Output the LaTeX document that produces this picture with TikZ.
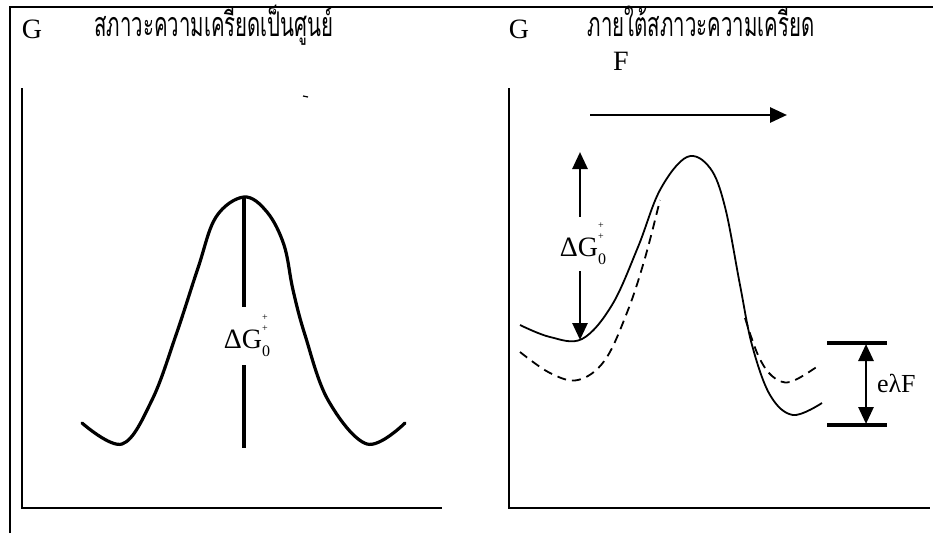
\documentclass[tikz,border=0pt]{standalone}
\usepackage{fontspec}
\setmainfont{Liberation Serif}
\newfontfamily\thaifont[Script=Thai,FakeStretch=0.6]{Loma}
\usetikzlibrary{arrows.meta}
\newcommand\dgzero{\fontsize{28}{28}\selectfont ΔG\makebox[0pt][l]{\raisebox{1.0em}{\fontsize{10}{10}\selectfont +}}\makebox[0pt][l]{\raisebox{0.6em}{\fontsize{10}{10}\selectfont +}}\raisebox{-0.3em}{\fontsize{16}{16}\selectfont 0}}
\tikzset{
  axis/.style={line width=2.2pt},
  curve/.style={line width=3.2pt, line cap=round},
  thin curve/.style={line width=1.8pt},
  dcurve/.style={line width=1.8pt, dash pattern=on 9pt off 6pt},
  lbl/.style={inner sep=0pt, outer sep=4pt, font=\fontsize{28}{28}\selectfont},
  thai/.style={inner sep=0pt, font=\thaifont\fontsize{34}{36}\selectfont},
  bigarrow/.style={line width=2.8pt, -{Triangle[length=17pt,width=15pt]}},
  bar/.style={line width=3.2pt},
}
\begin{document}
\begin{tikzpicture}[x=1pt,y=-1pt]
\useasboundingbox (0,0) rectangle (936,533);
% outer frame
\draw[line width=2.5pt] (10,533) -- (10,7) -- (933,7);
% ---------- left panel ----------
\node[lbl] (gl) at (32,29) {G};
\node[thai, anchor=base] (tl) at (214,36) {สภาวะความเครียดเป็นศูนย์};
\draw[axis] (22,88) -- (22,508) -- (442,508);
\draw[line width=1.2pt] (303,96) -- (308,97);
\draw[curve] plot[smooth, tension=0.6] coordinates {(82,423) (122,444) (152,400) (176,335) (198,268) (216,217) (244,197) (267,212) (284,245) (293,290) (305,335) (328,400) (367,444) (405,423)};
\coordinate (peakl) at (244,197);
\coordinate (basel) at (244,448);
\node[lbl, outer sep=8pt] (dgl) at (247,336) {\dgzero};
\draw[curve, line cap=butt] (peakl) -- (dgl.north -| peakl);
\draw[curve, line cap=butt] (dgl.south -| peakl) -- (basel);
% ---------- right panel ----------
\node[lbl] (gr) at (519,29) {G};
\node[thai, text depth=1pt, anchor=base] (tr) at (701,36) {ภายใต้สภาวะความเครียด};
\node[lbl] (f) at (621,61) {F};
\coordinate (fs) at (590,115);
\coordinate (fe) at (787,115);
\draw[bigarrow] (fs) -- (fe);
\draw[axis] (509,88) -- (509,508) -- (930,508);
\draw[thin curve] plot[smooth, tension=0.6] coordinates {(520,325) (550,337) (582,339) (612,305) (638,247) (660,190) (687,157) (710,168) (725,207) (740,285) (752,345) (770,395) (793,415) (822,403)};
\draw[dcurve] plot[smooth, tension=0.6] coordinates {(520,352) (550,373) (578,380) (605,360) (628,310) (645,258) (660,200)};
\draw[dcurve] plot[smooth, tension=0.6] coordinates {(745,318) (758,355) (772,376) (790,382) (818,366)};
\node[lbl, outer sep=6pt] (dgr) at (583,244) {\dgzero};
\coordinate (dgtop) at (580,152);
\coordinate (dgbot) at (580,340);
\draw[bigarrow] (dgr.north -| dgtop) -- (dgtop);
\draw[bigarrow] (dgr.south -| dgbot) -- (dgbot);
% e lambda F bracket
\coordinate (b1l) at (827,343);
\coordinate (b1r) at (887,343);
\coordinate (b2l) at (827,425);
\coordinate (b2r) at (887,425);
\draw[bar] (b1l) -- (b1r);
\draw[bar] (b2l) -- (b2r);
\coordinate (ua) at (866,344);
\coordinate (da) at (866,424);
\draw[line width=2.8pt, {Triangle[length=17pt,width=15pt]}-{Triangle[length=17pt,width=15pt]}] (ua) -- (da);
\node[lbl, anchor=west, font=\fontsize{26}{26}\selectfont] (elf) at (873,383) {eλF};
\end{tikzpicture}
\end{document}
